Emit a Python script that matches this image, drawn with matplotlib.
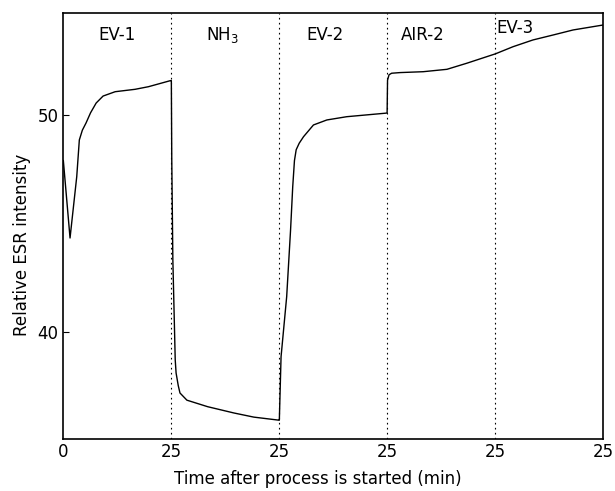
import matplotlib
matplotlib.use("Agg")
import matplotlib.pyplot as plt

# time (min, cumulative over the five 25-min steps) and relative ESR intensity
time_min = [0.0, 1.55, 3.1, 3.7, 4.4, 5.25, 6.3, 7.6, 9.2, 12.0, 16.6, 19.7, 24.8,
            25.0, 25.1, 25.35, 25.9, 26.1, 26.6, 27.0, 28.6, 33.4, 39.5, 44.1, 49.9,
            50.0, 50.4, 51.7, 52.6, 53.1, 53.5, 53.9, 54.6, 55.6, 57.9, 61.0, 65.6, 74.5, 74.95,
            75.05, 75.4, 76.0, 78.0, 83.3, 88.8, 93.4, 98.0,
            100.0, 104.1, 108.7, 113.4, 118.0, 125.0]
intensity = [47.9, 44.34, 47.16, 48.85, 49.3, 49.63, 50.1, 50.55, 50.87, 51.07, 51.18, 51.3, 51.58,
             51.58, 47.93, 43.33, 38.73, 38.13, 37.55, 37.21, 36.88, 36.58, 36.29, 36.10, 35.96,
             35.96, 38.88, 41.64, 44.71, 46.70, 47.9, 48.4, 48.7, 49.0, 49.54, 49.77, 49.92, 50.08, 50.09,
             51.6, 51.85, 51.92, 51.95, 51.99, 52.10, 52.38, 52.68,
             52.81, 53.14, 53.45, 53.68, 53.91, 54.14]

boundaries = [25, 50, 75, 100]
xtick_pos = [0, 25, 50, 75, 100, 125]
xtick_labels = ["0", "25", "25", "25", "25", "25"]
ytick_pos = [40, 50]
step_labels = ["EV-1", r"NH$_3$", "EV-2", "AIR-2", "EV-3"]
step_label_x = [12.4, 36.8, 60.6, 83.3, 104.6]
step_label_y = [53.68, 53.68, 53.68, 53.68, 54.0]

fig = plt.figure(figsize=(6.15, 4.91), dpi=100)
ax = fig.add_axes([0.103, 0.1053, 0.878, 0.8682])

ax.plot(time_min, intensity, color="black", lw=1.0)
for b in boundaries:
    ax.axvline(b, color="black", lw=0.8, linestyle=(0, (1.5, 3)))

for lab, x, y in zip(step_labels, step_label_x, step_label_y):
    ax.text(x, y, lab, ha="center", va="center", fontsize=12)

ax.set_xlim(0, 125)
ax.set_ylim(35.08, 54.69)
ax.set_xticks(xtick_pos)
ax.set_xticklabels(xtick_labels)
ax.set_yticks(ytick_pos)
ax.tick_params(axis="x", length=0, labelsize=12, pad=3)
ax.tick_params(axis="y", direction="in", length=4, labelsize=12)
for s in ax.spines.values():
    s.set_linewidth(1.2)

ax.set_xlabel("Time after process is started (min)", fontsize=12)
ax.xaxis.set_label_coords(0.4717, -0.072)
ax.set_ylabel("Relative ESR intensity", fontsize=12)
ax.yaxis.set_label_coords(-0.06, 0.456)

fig.savefig("out.png", dpi=100)
